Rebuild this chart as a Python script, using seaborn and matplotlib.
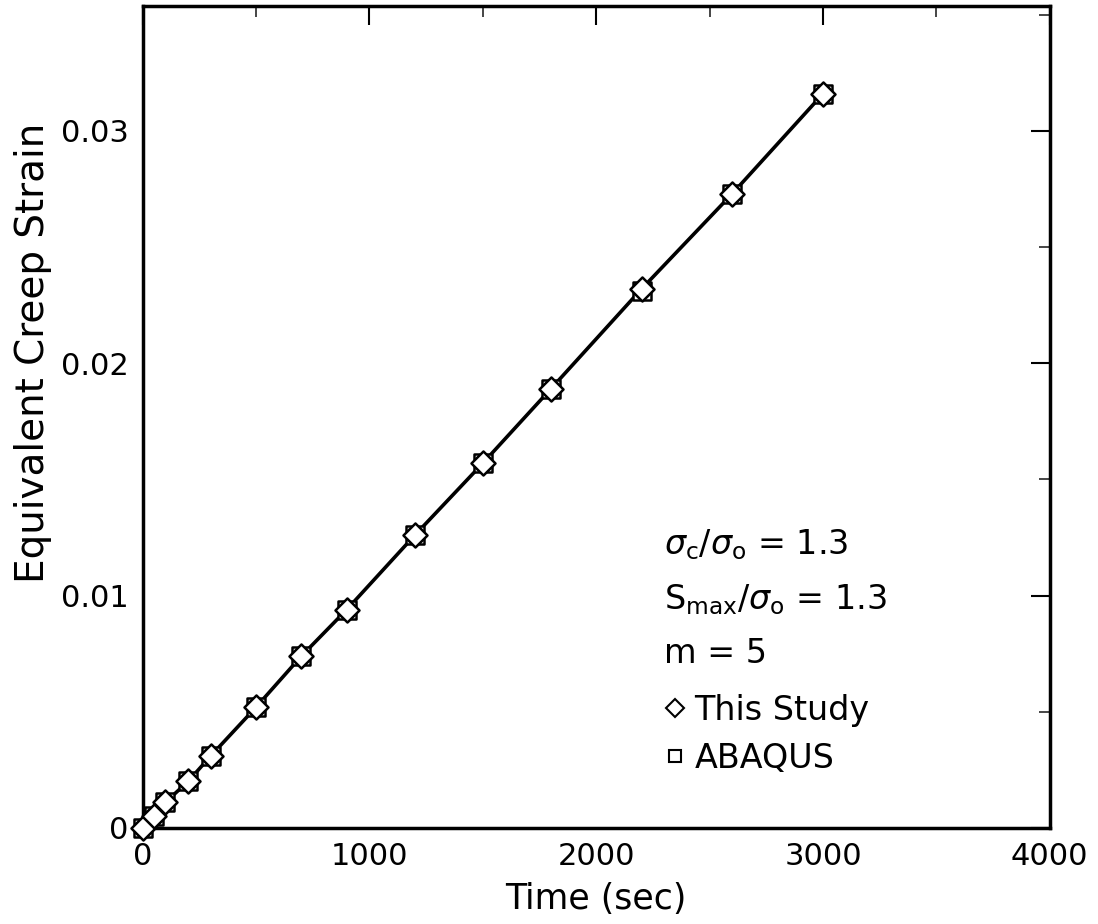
import matplotlib
import pandas as pd
import matplotlib.pyplot as plt
import seaborn as sns
from matplotlib.lines import Line2D
from matplotlib.ticker import MultipleLocator

matplotlib.use('Agg')

# Creep strain vs time
time_sec = [0, 50, 100, 200, 300, 500, 700, 900, 1200, 1500, 1800, 2200, 2600, 3000]
this_study = [0.0, 0.0005, 0.0011, 0.0020, 0.0031, 0.0052, 0.0074, 0.0094,
              0.0126, 0.0157, 0.0189, 0.0232, 0.0273, 0.0316]
abaqus = [0.0, 0.0005, 0.0011, 0.0020, 0.0031, 0.0052, 0.0074, 0.0094,
          0.0126, 0.0157, 0.0189, 0.0231, 0.0273, 0.0316]

x_ticks = [0, 1000, 2000, 3000, 4000]
x_tick_labels = ['0', '1000', '2000', '3000', '4000']
y_ticks = [0, 0.01, 0.02, 0.03]
y_tick_labels = ['0', '0.01', '0.02', '0.03']

annotations = [r'$\sigma_{\mathrm{c}}/\sigma_{\mathrm{o}}$ = 1.3',
               r'S$_{\mathrm{max}}$/$\sigma_{\mathrm{o}}$ = 1.3',
               'm = 5']


def plot_creep_strain():
    sns.set_theme(style="white")
    plt.rcParams['font.family'] = ['DejaVu Sans']
    plt.rcParams['mathtext.fontset'] = 'dejavusans'

    df = pd.DataFrame({'Time': time_sec, 'Study': this_study, 'ABAQUS': abaqus})

    fig = plt.figure(figsize=(10.98, 9.24), dpi=100)
    ax = fig.add_axes([0.130, 0.104, 0.826, 0.890])

    # Solid curve through the results
    sns.lineplot(data=df, x='Time', y='Study', ax=ax, color='black', linewidth=2.6,
                 zorder=2, legend=False)

    # Overlapping markers: diamonds (this study) and squares (ABAQUS)
    sns.scatterplot(data=df, x='Time', y='ABAQUS', ax=ax, marker='s', s=150,
                    facecolor='white', edgecolor='black', linewidth=1.8, zorder=3,
                    clip_on=False)
    sns.scatterplot(data=df, x='Time', y='Study', ax=ax, marker='D', s=150,
                    facecolor='white', edgecolor='black', linewidth=1.8, zorder=4,
                    clip_on=False)

    ax.set_xlim(0, 4000)
    ax.set_ylim(0, 0.0354)
    ax.set_xticks(x_ticks)
    ax.set_xticklabels(x_tick_labels)
    ax.set_yticks(y_ticks)
    ax.set_yticklabels(y_tick_labels)
    ax.xaxis.set_minor_locator(MultipleLocator(500))
    ax.yaxis.set_minor_locator(MultipleLocator(0.005))

    ax.tick_params(which='major', direction='in', length=14, width=1.5,
                   top=True, right=True, labelsize=22, pad=10, colors='black')
    ax.tick_params(which='minor', direction='in', length=8, width=1.2,
                   top=True, right=True)
    for spine in ax.spines.values():
        spine.set_linewidth(2.5)
        spine.set_color('black')

    ax.set_xlabel('Time (sec)', fontsize=25, labelpad=8, color='black')
    ax.set_ylabel('Equivalent Creep Strain', fontsize=28, color='black')
    ax.yaxis.set_label_coords(-0.100, 0.578)

    # Parameter annotations
    for i, txt in enumerate(annotations):
        ax.text(0.575, 0.344 - i * 0.066, txt, transform=ax.transAxes,
                fontsize=24, va='center', ha='left', color='black')

    handles = [
        Line2D([], [], marker='D', linestyle='none', markersize=9,
               markerfacecolor='white', markeredgecolor='black', markeredgewidth=1.5),
        Line2D([], [], marker='s', linestyle='none', markersize=9,
               markerfacecolor='white', markeredgecolor='black', markeredgewidth=1.5),
    ]
    leg = ax.legend(handles, ['This Study', 'ABAQUS'], loc='upper left',
                    bbox_to_anchor=(0.557, 0.183), frameon=False, fontsize=24,
                    handlelength=0.6, handletextpad=0.3, labelspacing=0.45,
                    borderpad=0.0)
    for t in leg.get_texts():
        t.set_color('black')

    fig.savefig('out.png', dpi=100)


plot_creep_strain()
